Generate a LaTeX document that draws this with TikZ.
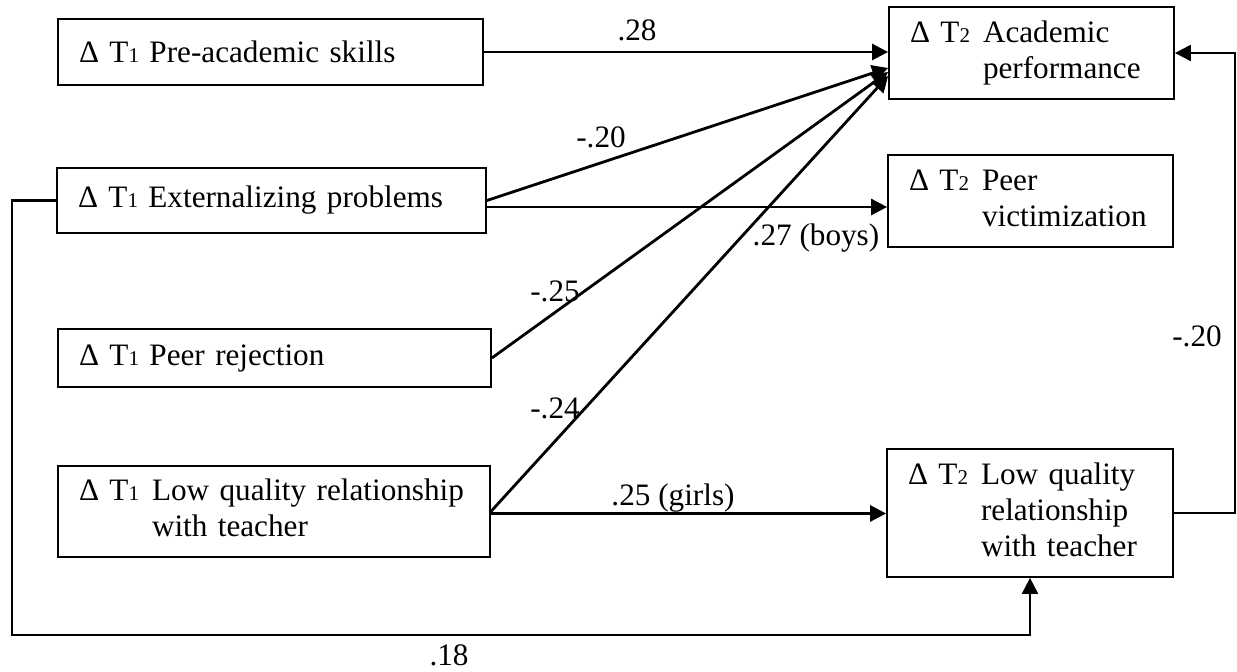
\documentclass[tikz,border=0pt]{standalone}
\usepackage{fontspec}
\setmainfont{Liberation Serif}
\usetikzlibrary{arrows.meta}
\newcommand\smdig[1]{{\fontsize{10.5pt}{12pt}\selectfont #1}}
\begin{document}
\begin{tikzpicture}[x=0.5pt,y=-0.5pt,
  font=\fontsize{15.6pt}{18pt}\selectfont,
  box/.style={draw, line width=0.9pt, inner xsep=10.5pt, inner ysep=0pt, align=left, anchor=center},
  arr/.style={line width=1.4pt, -{Triangle[length=8pt,width=8pt]}},
  fbarr/.style={line width=1.1pt, -{Triangle[length=8pt,width=8pt]}},
  lbl/.style={inner sep=0pt}]
\useasboundingbox (0,0) rectangle (1237,672);

% left boxes
\node[box, minimum width=212.5pt, text width=191.5pt, minimum height=33pt] (b1) at (270.5,52)
  {Δ T\smdig{1} Pre-academic skills};
\node[box, minimum width=214.5pt, text width=193.5pt, minimum height=32.5pt] (b2) at (271.5,200.5)
  {Δ T\smdig{1} Externalizing problems};
\node[box, minimum width=216.5pt, text width=195.5pt, minimum height=29pt] (b3) at (274.5,358)
  {Δ T\smdig{1} Peer rejection};
\node[box, minimum width=216pt, text width=195pt, minimum height=45.5pt] (b4) at (274,511.5)
  {\begin{tabular}{@{}p{36.5pt}@{}l@{}}Δ T\smdig{1} & Low quality relationship\\ & with teacher\end{tabular}};

% right boxes
\node[box, minimum width=142.5pt, text width=121.5pt, minimum height=46pt] (ap) at (1031.5,53)
  {\begin{tabular}{@{}p{36.5pt}@{}l@{}}Δ T\smdig{2} & Academic\\ & performance\end{tabular}};
\node[box, minimum width=142.5pt, text width=121.5pt, minimum height=46pt] (pv) at (1030.5,201)
  {\begin{tabular}{@{}p{36.5pt}@{}l@{}}Δ T\smdig{2} & Peer\\ & victimization\end{tabular}};
\node[box, minimum width=143pt, text width=122pt, minimum height=64pt] (lq2) at (1030,513)
  {\begin{tabular}{@{}p{36.5pt}@{}l@{}}Δ T\smdig{2} & Low quality\\ & relationship\\ & with teacher\end{tabular}};

% arrows
\draw[arr] (b1.east) -- (b1.east -| ap.west);
\draw[arr] (b2.east) -- ([yshift=-7.5pt]ap.west);
\draw[arr] ([yshift=-3.25pt]b2.east) -- ([yshift=-3.25pt]b2.east -| pv.west);
\draw[arr] (b3.east) -- ([yshift=-9.5pt]ap.west);
\draw[arr] (b4.east) -- ([yshift=-11.5pt]ap.west);
\draw[arr] ([yshift=-1pt]b4.east) -- ([yshift=-1pt]b4.east -| lq2.west);

\coordinate (fb1) at (12,635);
\draw[fbarr] (b2.west) -| (fb1) -| (lq2.south);
\coordinate (fb2) at (1235,53);
\draw[fbarr] (lq2.east) -| (fb2) -- (ap.east);

% labels
\node[lbl] (l1) at (637,30) {.28};
\node[lbl] (l2) at (601,137) {-.20};
\node[lbl] (l3) at (816,238) {.27 (boys)};
\node[lbl] (l4) at (555,291) {-.25};
\node[lbl] (l5) at (555,408) {-.24};
\node[lbl] (l6) at (673,498) {.25 (girls)};
\node[lbl] (l7) at (1197,336) {-.20};
\node[lbl] (l8) at (449,655) {.18};
\end{tikzpicture}
\end{document}
